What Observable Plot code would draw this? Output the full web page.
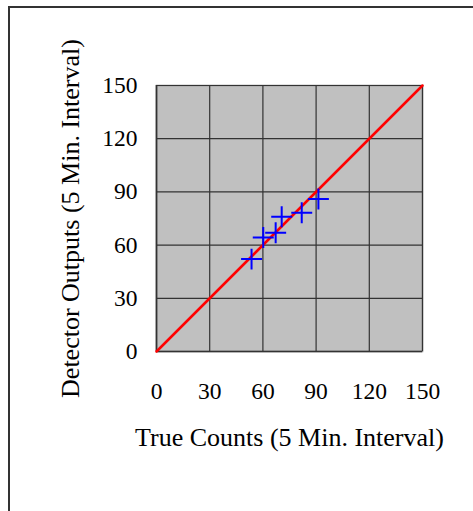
<!DOCTYPE html>
<html>
<head>
<meta charset="utf-8">
<script src="https://cdn.jsdelivr.net/npm/d3@7"></script>
<script src="https://cdn.jsdelivr.net/npm/@observablehq/plot@0.6"></script>
<style>
  html, body { margin: 0; padding: 0; background: #fff; }
  #wrap { position: relative; width: 473px; height: 511px; overflow: hidden; }
  #box { position: absolute; left: 8px; top: 6px; width: 600px; height: 600px; border-left: 2px solid #333; border-top: 2px solid #333; }
  #chart { position: absolute; left: 0; top: 0; }
</style>
</head>
<body>
<div id="wrap"><div id="box"></div><div id="chart"></div></div>
<script>
const trueCounts = [53.6, 60.2, 67.2, 70.6, 81.9, 91.3];
const detectorOutputs = [52.1, 64.3, 67.0, 76.0, 78.3, 86.0];
const tickValues = [0, 30, 60, 90, 120, 150];
const lineX = [0, 150];
const lineY = [0, 150];
const xTitle = "True Counts (5 Min. Interval)";
const yTitle = "Detector Outputs (5 Min. Interval)";

const points = trueCounts.map((x, i) => ({x, y: detectorOutputs[i]}));
const line = lineX.map((x, i) => ({x, y: lineY[i]}));

const chart = Plot.plot({
  width: 473,
  height: 511,
  marginLeft: 156,
  marginRight: 51,
  marginTop: 85,
  marginBottom: 160,
  style: {fontFamily: "'Liberation Serif', 'Times New Roman', serif", fontSize: "23.5px", color: "#000", background: "transparent", overflow: "visible"},
  x: {domain: [0, 150], ticks: tickValues},
  y: {domain: [0, 150], ticks: tickValues},
  marks: [
    Plot.frame({fill: "#c0c0c0", stroke: "#888", strokeWidth: 1.5}),
    Plot.gridX(tickValues, {stroke: "#333", strokeOpacity: 1, strokeWidth: 1.2}),
    Plot.gridY(tickValues, {stroke: "#333", strokeOpacity: 1, strokeWidth: 1.2}),
    Plot.ruleX([0], {stroke: "#333", strokeWidth: 1.5}),
    Plot.ruleY([0], {stroke: "#333", strokeWidth: 1.5}),
    Plot.axisX(tickValues, {tickSize: 0, tickPadding: 31, label: null, fontSize: 23.5}),
    Plot.axisY(tickValues, {tickSize: 0, tickPadding: 19, label: null, fontSize: 23.5}),
    Plot.line(line, {x: "x", y: "y", stroke: "#ff0000", strokeWidth: 2.5}),
    Plot.dot(points, {x: "x", y: "y", symbol: "plus", r: 6.8, stroke: "#0000ff", strokeWidth: 2}),
    Plot.text([xTitle], {frameAnchor: "bottom", text: d => d, dy: 86, lineAnchor: "middle", fontSize: 26}),
    Plot.text([yTitle], {frameAnchor: "left", text: d => d, dx: -86, rotate: -90, lineAnchor: "middle", textAnchor: "middle", fontSize: 26})
  ]
});
document.getElementById("chart").appendChild(chart);
</script>
</body>
</html>
